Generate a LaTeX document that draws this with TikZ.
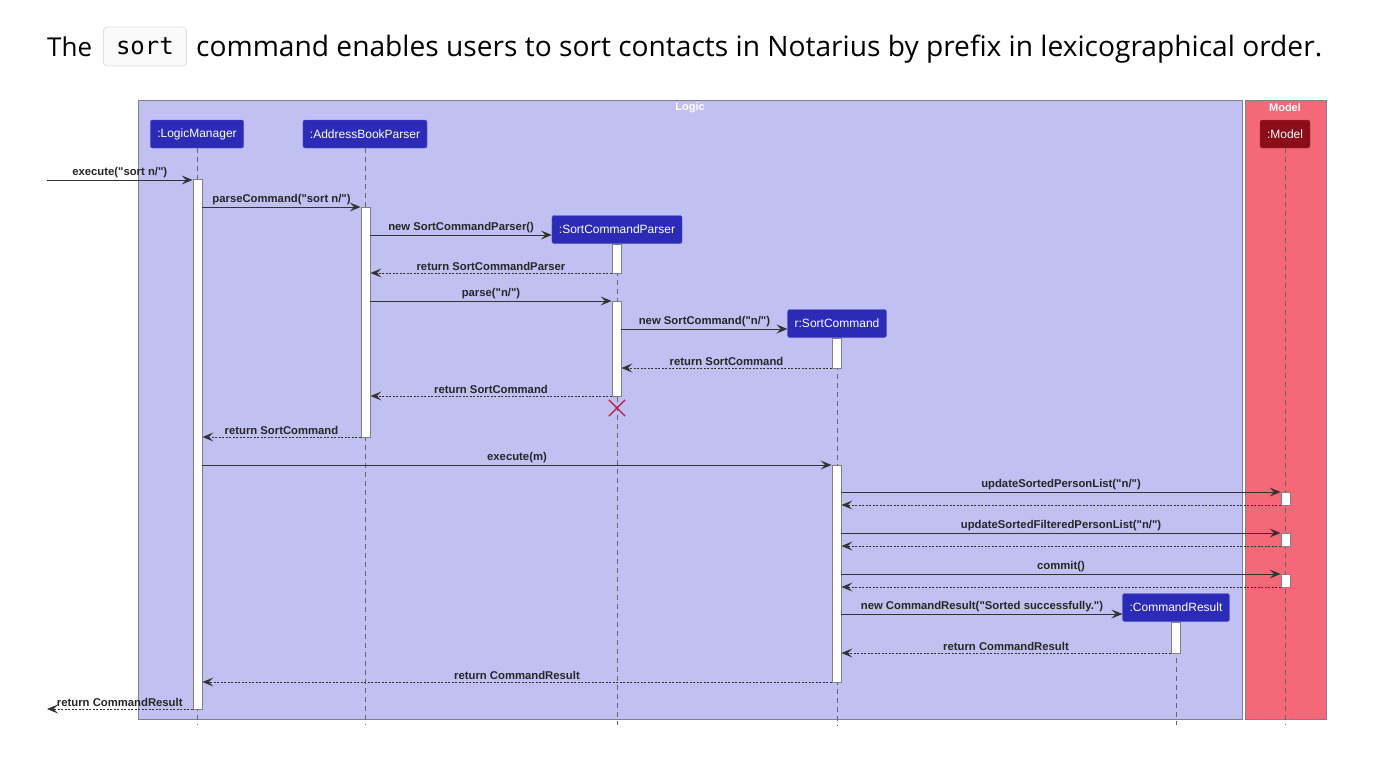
\documentclass[tikz,border=0pt]{standalone}
\usepackage{fontspec}
\defaultfontfeatures[\rmfamily]{}
\setmainfont{Liberation Sans}
\newfontfamily\lblfont{Liberation Sans}
\newfontfamily\titlefont{Open Sans}
\newfontfamily\codefont{DejaVu Sans Mono}
\usetikzlibrary{arrows.meta}
\definecolor{logicbg}{RGB}{193,192,243}
\definecolor{modelbg}{RGB}{244,104,120}
\definecolor{partblue}{RGB}{43,43,183}
\definecolor{partred}{RGB}{140,13,26}
\definecolor{framegray}{RGB}{128,128,140}
\definecolor{linegray}{RGB}{51,51,51}
\definecolor{xred}{RGB}{190,20,60}
\tikzset{
  frame/.style={draw=framegray, line width=0.8pt},
  part/.style={rectangle, rounded corners=2pt, fill=partblue, draw=partblue!80!white, text=white, font=\lblfont\fontsize{12}{14}\selectfont, minimum height=28pt, inner xsep=7pt, inner ysep=0pt},
  lifeline/.style={draw=black!60, line width=0.7pt, dash pattern=on 5pt off 4pt},
  actbox/.style={rectangle, fill=white, draw=black!50, line width=0.9pt, minimum width=9pt, inner sep=0pt},
  msg/.style={draw=linegray, line width=0.9pt, -{Stealth[length=11pt,width=9pt,inset=4.5pt]}},
  ret/.style={msg, dash pattern=on 2pt off 1.5pt},
  lbl/.style={font=\lblfont\bfseries\fontsize{11.3}{13}\selectfont, text=black!85, inner sep=1.5pt, above},
  flbl/.style={font=\lblfont\bfseries\fontsize{11}{13}\selectfont, text=white},
}
\begin{document}
\begin{tikzpicture}[x=1pt,y=-1pt]
\useasboundingbox[fill=white] (0,0) rectangle (1376,760);
% title
\node[anchor=base west, inner sep=0pt, font=\titlefont\fontsize{26}{30}\selectfont] (t1) at (47,57) {The};
\node[rectangle, rounded corners=4pt, draw=black!12, fill=black!2, line width=0.8pt, minimum width=83pt, minimum height=39pt, inner sep=0pt, anchor=west, font=\codefont\fontsize{24}{28}\selectfont] (code) at (103,46.5) {sort};
\node[anchor=base west, inner sep=0pt, font=\titlefont\fontsize{26}{30}\selectfont] (t2) at (196,57) {\resizebox{1126pt}{!}{command enables users to sort contacts in Notarius by prefix in lexicographical order.}};
% frames
\node[frame, fill=logicbg, rectangle, minimum width=1104pt, minimum height=619pt, inner sep=0pt, anchor=north west] (logic) at (138,100) {};
\node[frame, fill=modelbg, rectangle, minimum width=81pt, minimum height=619pt, inner sep=0pt, anchor=north west] (model) at (1245,100) {};
\node[flbl] (logicl) at (690,108) {Logic};
\node[flbl] (modell) at (1285,108) {Model};
% participants
\node[part] (lm) at (197,134) {:LogicManager};
\node[part] (abp) at (365,134) {:AddressBookParser};
\node[part] (scp) at (617,229.5) {:SortCommandParser};
\node[part] (sc) at (837,323.5) {r:SortCommand};
\node[part] (cr) at (1176,607.5) {:CommandResult};
\node[part, fill=partred, draw=partred!80!white] (mdl) at (1285,134) {:Model};
% lifelines
\coordinate (lmE) at (197,725);
\coordinate (abpE) at (365,725);
\coordinate (scpE) at (617,725);
\coordinate (scE) at (837,725);
\coordinate (crE) at (1176,725);
\coordinate (mdlE) at (1285,725);
\draw[lifeline] (lm.south) -- (lmE);
\draw[lifeline] (abp.south) -- (abpE);
\draw[lifeline] (scp.south) -- (scpE);
\draw[lifeline] (sc.south) -- (scE);
\draw[lifeline] (cr.south) -- (crE);
\draw[lifeline] (mdl.south) -- (mdlE);
% activations
\node[actbox, minimum height=530pt] (lmA) at (197.5,444) {};
\node[actbox, minimum height=230pt] (abA) at (365.5,322) {};
\node[actbox, minimum height=29pt] (scpA) at (616.5,258.5) {};
\node[actbox, minimum height=95pt] (scpB) at (616.5,348.5) {};
\node[actbox, minimum height=30pt] (scA) at (836.5,353) {};
\node[actbox, minimum height=217pt] (scB) at (836.5,573.5) {};
\node[actbox, minimum height=13pt] (mA) at (1285.5,498.5) {};
\node[actbox, minimum height=13pt] (mB) at (1285.5,539.5) {};
\node[actbox, minimum height=13pt] (mC) at (1285.5,580.5) {};
\node[actbox, minimum height=31pt] (crA) at (1175.5,637.5) {};
% destroy
\node[inner sep=0pt, minimum size=16pt] (xd) at (617,408) {};
\draw[xred, line width=1.2pt] (xd.north west) -- (xd.south east) (xd.north east) -- (xd.south west);
% messages
\coordinate (in1) at (47,180);
\coordinate (out1) at (47,709);
\draw[msg] (in1) -- (lmA.west |- in1) node[lbl, midway] {execute("sort n/")};
\draw[msg] (lmA.east |- 0,207) -- (abA.west |- 0,207) node[lbl, midway] {parseCommand("sort n/")};
\draw[msg] (abA.east |- 0,235) -- (scp.west |- 0,235) node[lbl, midway] {new SortCommandParser()};
\draw[ret] (scpA.west |- 0,273) -- (abA.east |- 0,273) node[lbl, midway] {return SortCommandParser};
\draw[msg] (abA.east |- 0,301) -- (scpB.west |- 0,301) node[lbl, midway] {parse("n/")};
\draw[msg] (scpB.east |- 0,329) -- (sc.west |- 0,329) node[lbl, midway] {new SortCommand("n/")};
\draw[ret] (scA.west |- 0,368) -- (scpB.east |- 0,368) node[lbl, midway] {return SortCommand};
\draw[ret] (scpB.west |- 0,396) -- (abA.east |- 0,396) node[lbl, midway] {return SortCommand};
\draw[ret] (abA.west |- 0,437) -- (lmA.east |- 0,437) node[lbl, midway] {return SortCommand};
\draw[msg] (lmA.east |- 0,465) -- (scB.west |- 0,465) node[lbl, midway] {execute(m)};
\draw[msg] (scB.east |- 0,492) -- (mA.west |- 0,492) node[lbl, midway] {updateSortedPersonList("n/")};
\draw[ret] (mA.west |- 0,505) -- (scB.east |- 0,505);
\draw[msg] (scB.east |- 0,533) -- (mB.west |- 0,533) node[lbl, midway] {updateSortedFilteredPersonList("n/")};
\draw[ret] (mB.west |- 0,546) -- (scB.east |- 0,546);
\draw[msg] (scB.east |- 0,574) -- (mC.west |- 0,574) node[lbl, midway] {commit()};
\draw[ret] (mC.west |- 0,587) -- (scB.east |- 0,587);
\draw[msg] (scB.east |- 0,614) -- (cr.west |- 0,614) node[lbl, midway] {new CommandResult("Sorted successfully.")};
\draw[ret] (crA.west |- 0,653) -- (scB.east |- 0,653) node[lbl, midway] {return CommandResult};
\draw[ret] (scB.west |- 0,682) -- (lmA.east |- 0,682) node[lbl, midway] {return CommandResult};
\draw[ret] (lmA.west |- out1) -- (out1) node[lbl, midway] {return CommandResult};
\end{tikzpicture}
\end{document}
